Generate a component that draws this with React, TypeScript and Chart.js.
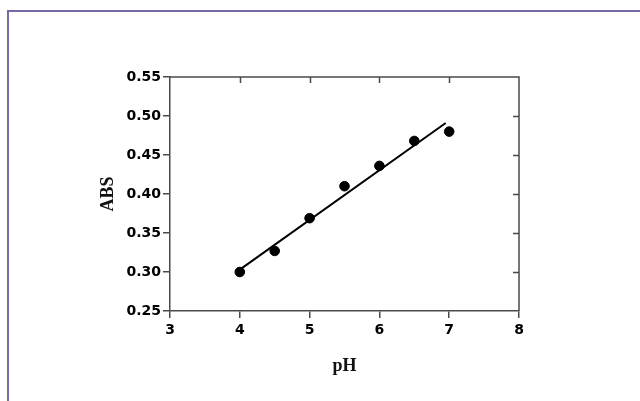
import React, { useEffect, useRef } from "react";
import { Chart, registerables } from "chart.js";

Chart.register(...registerables);

const phValues = [4, 4.5, 5, 5.5, 6, 6.5, 7];
const absValues = [0.3, 0.327, 0.369, 0.41, 0.436, 0.468, 0.48];
const fitX = [4, 6.95];
const fitY = [0.303, 0.491];
const xTicks = [3, 4, 5, 6, 7, 8];
const yTicks = [0.25, 0.3, 0.35, 0.4, 0.45, 0.5, 0.55];

const AXIS_COLOR = "#4a4a4a";
const TICK_FONT = { family: "'DejaVu Sans', Arial, sans-serif", size: 14, weight: "bold" as const };
const TITLE_FONT = { family: "'Liberation Serif', 'Times New Roman', serif", size: 18, weight: "bold" as const };

const framePlugin = {
  id: "framePlugin",
  beforeDraw(chart: any) {
    const ctx = chart.ctx;
    ctx.save();
    ctx.fillStyle = "#ffffff";
    ctx.fillRect(0, 0, chart.width, chart.height);
    ctx.strokeStyle = "#7a68a6";
    ctx.lineWidth = 2;
    ctx.beginPath();
    ctx.moveTo(8, chart.height + 5);
    ctx.lineTo(8, 11);
    ctx.lineTo(chart.width + 5, 11);
    ctx.stroke();
    ctx.restore();
  },
  afterDatasetsDraw(chart: any) {
    const ctx = chart.ctx;
    const { left, right, top, bottom } = chart.chartArea;
    const xs = chart.scales.x;
    const ys = chart.scales.y;
    ctx.save();
    ctx.strokeStyle = AXIS_COLOR;
    ctx.lineWidth = 1.5;
    ctx.beginPath();
    ctx.moveTo(left, top);
    ctx.lineTo(right, top);
    ctx.lineTo(right, bottom);
    ctx.stroke();
    ctx.beginPath();
    for (const v of xTicks.slice(1, -1)) {
      const px = Math.round(xs.getPixelForValue(v)) + 0.5;
      ctx.moveTo(px, top);
      ctx.lineTo(px, top + 6);
    }
    for (const v of yTicks.slice(1, -1)) {
      const py = Math.round(ys.getPixelForValue(v)) + 0.5;
      ctx.moveTo(right, py);
      ctx.lineTo(right - 6, py);
    }
    ctx.stroke();
    ctx.restore();
  },
};

export default function App() {
  const ref = useRef<HTMLCanvasElement | null>(null);
  useEffect(() => {
    if (!ref.current) return;
    const chart = new Chart(ref.current, {
      type: "scatter",
      data: {
        datasets: [
          {
            type: "line",
            data: fitX.map((x, i) => ({ x, y: fitY[i] })),
            borderColor: "#000000",
            borderWidth: 2,
            pointRadius: 0,
            fill: false,
          },
          {
            type: "scatter",
            data: phValues.map((x, i) => ({ x, y: absValues[i] })),
            backgroundColor: "#000000",
            borderColor: "#000000",
            pointRadius: 4.8,
          },
        ],
      },
      options: {
        responsive: false,
        animation: false,
        layout: { padding: { left: 98, right: 121, top: 77, bottom: 24 } },
        plugins: { legend: { display: false }, tooltip: { enabled: false } },
        scales: {
          x: {
            type: "linear",
            min: 3,
            max: 8,
            afterBuildTicks: (s: any) => {
              s.ticks = xTicks.map((v) => ({ value: v }));
            },
            afterFit: (s: any) => {
              s.height = 66;
            },
            grid: {
              display: true,
              drawOnChartArea: false,
              drawTicks: true,
              tickLength: 7,
              color: AXIS_COLOR,
              lineWidth: 1.5,
            },
            border: { display: true, color: AXIS_COLOR, width: 1.5 },
            ticks: {
              color: "#000000",
              padding: 4,
              font: TICK_FONT,
              callback: (v: any) => String(v),
            },
            title: {
              display: true,
              text: "pH",
              color: "#111111",
              padding: { top: 0, bottom: 0 },
              font: TITLE_FONT,
            },
          },
          y: {
            type: "linear",
            min: 0.25,
            max: 0.55,
            afterBuildTicks: (s: any) => {
              s.ticks = yTicks.map((v) => ({ value: v }));
            },
            afterFit: (s: any) => {
              s.width = 72;
            },
            grid: {
              display: true,
              drawOnChartArea: false,
              drawTicks: true,
              tickLength: 7,
              color: AXIS_COLOR,
              lineWidth: 1.5,
            },
            border: { display: true, color: AXIS_COLOR, width: 1.5 },
            ticks: {
              color: "#000000",
              padding: 2,
              font: TICK_FONT,
              callback: (v: any) => Number(v).toFixed(2),
            },
            title: {
              display: true,
              text: "ABS",
              color: "#111111",
              padding: { top: 0, bottom: 0 },
              font: TITLE_FONT,
            },
          },
        },
      },
      plugins: [framePlugin],
    });
    return () => chart.destroy();
  }, []);
  return (
    <div style={{ position: "fixed", left: 0, top: 0, width: 640, height: 401 }}>
      <canvas ref={ref} width={640} height={401} style={{ width: 640, height: 401, display: "block" }} />
    </div>
  );
}
